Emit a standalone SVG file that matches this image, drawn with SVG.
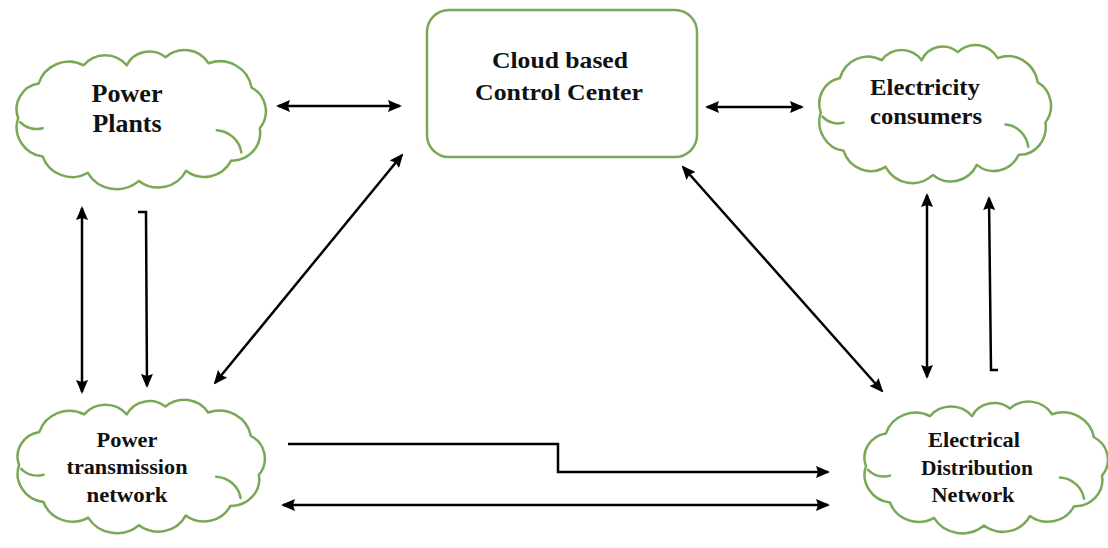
<svg xmlns="http://www.w3.org/2000/svg" xmlns:xlink="http://www.w3.org/1999/xlink" width="1108" height="548" viewBox="0 0 1108 548">
<style>
.cloud{fill:#fff;stroke:#79a957;stroke-width:2.5;stroke-linejoin:round;stroke-linecap:round}
.curl{fill:none;stroke:#79a957;stroke-width:2.5;stroke-linecap:round}
.box{fill:#fff;stroke:#79a957;stroke-width:2.5}
.lbl{font-family:"Liberation Serif","Times New Roman",serif;font-weight:bold;fill:#111;text-anchor:middle}
.con{fill:none;stroke:#000;stroke-width:2.5}
</style>
<defs>
<marker id="ah" viewBox="0 0 14 12" refX="12" refY="6" markerWidth="14" markerHeight="12" markerUnits="userSpaceOnUse" orient="auto-start-reverse">
<path d="M0,0 L14,6 L0,12 L2,6 z" fill="#000"/>
</marker>
<g id="cloud">
<path class="cloud" vector-effect="non-scaling-stroke" d="M6,74 A25.6,25.6 0 0 1 26,40 A31,31 0 0 1 70,22 A27,27 0 0 1 112,22 A25,25 0 0 1 150,14 A27.6,27.6 0 0 1 192,20 A31.5,31.5 0 0 1 234,44 A26.5,26.5 0 0 1 242,84 A27.6,27.6 0 0 1 214,116 A29.3,29.3 0 0 1 170,126 A30.6,30.6 0 0 1 124,136 A33,33 0 0 1 74,128 A30.4,30.4 0 0 1 30,112 A29.2,29.2 0 0 1 6,74 Z"/>
<path class="curl" vector-effect="non-scaling-stroke" d="M200,86 A26,26 0 0 1 224,108"/>
<path class="curl" vector-effect="non-scaling-stroke" d="M8,78 A22,22 0 0 0 30,84"/>
</g>
</defs>

<g id="connectors">
<path class="con" d="M278,106 L400,106" marker-start="url(#ah)" marker-end="url(#ah)"/>
<path class="con" d="M707,107 L802,107" marker-start="url(#ah)" marker-end="url(#ah)"/>
<path class="con" d="M82,208 L82,392" marker-start="url(#ah)" marker-end="url(#ah)"/>
<path class="con" d="M138,212 L146,212 L147,386" marker-end="url(#ah)"/>
<path class="con" d="M215,383 L402,155" marker-start="url(#ah)" marker-end="url(#ah)"/>
<path class="con" d="M683,167 L882,391" marker-start="url(#ah)" marker-end="url(#ah)"/>
<path class="con" d="M927,195 L927,377" marker-start="url(#ah)" marker-end="url(#ah)"/>
<path class="con" d="M998,370 L991,370 L989,198" marker-end="url(#ah)"/>
<path class="con" d="M288,444 L558,444 L558,472 L828,472" marker-end="url(#ah)"/>
<path class="con" d="M283,505 L828,505" marker-start="url(#ah)" marker-end="url(#ah)"/>
</g>

<g id="power-plants">
<use xlink:href="#cloud" href="#cloud" transform="translate(12,43) scale(1.024,1.014)"/>
<text class="lbl" font-size="25" x="127" y="102" textLength="71" lengthAdjust="spacingAndGlyphs">Power</text>
<text class="lbl" font-size="25" x="127" y="132" textLength="69" lengthAdjust="spacingAndGlyphs">Plants</text>
</g>

<g id="control-center">
<rect class="box" x="427" y="10" width="270" height="147" rx="22" ry="22"/>
<text class="lbl" font-size="24" x="560" y="68" textLength="136" lengthAdjust="spacingAndGlyphs">Cloud based</text>
<text class="lbl" font-size="24" x="559" y="100" textLength="168" lengthAdjust="spacingAndGlyphs">Control Center</text>
</g>

<g id="electricity-consumers">
<use xlink:href="#cloud" href="#cloud" transform="translate(815,38) scale(0.952,1.007)"/>
<text class="lbl" font-size="23" x="925" y="95" textLength="110" lengthAdjust="spacingAndGlyphs">Electricity</text>
<text class="lbl" font-size="23" x="926" y="124" textLength="112" lengthAdjust="spacingAndGlyphs">consumers</text>
</g>

<g id="power-transmission-network">
<use xlink:href="#cloud" href="#cloud" transform="translate(13,393) scale(1.016,0.973)"/>
<text class="lbl" font-size="21" x="127" y="447" textLength="61" lengthAdjust="spacingAndGlyphs">Power</text>
<text class="lbl" font-size="21" x="127" y="474" textLength="121" lengthAdjust="spacingAndGlyphs">transmission</text>
<text class="lbl" font-size="21" x="127" y="502" textLength="81" lengthAdjust="spacingAndGlyphs">network</text>
</g>

<g id="electrical-distribution-network">
<use xlink:href="#cloud" href="#cloud" transform="translate(860,395) scale(1.0,0.96)"/>
<text class="lbl" font-size="21" x="974" y="447" textLength="92" lengthAdjust="spacingAndGlyphs">Electrical</text>
<text class="lbl" font-size="21" x="977" y="475" textLength="112" lengthAdjust="spacingAndGlyphs">Distribution</text>
<text class="lbl" font-size="21" x="973" y="502" textLength="83" lengthAdjust="spacingAndGlyphs">Network</text>
</g>
</svg>
